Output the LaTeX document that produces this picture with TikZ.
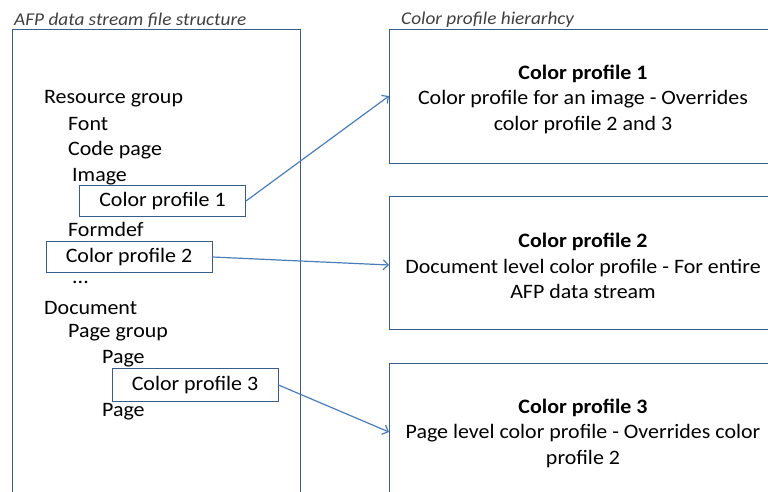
\documentclass[tikz,border=0pt]{standalone}
\usepackage{fontspec}
\setmainfont{Carlito}[FakeStretch=1.07]
\usetikzlibrary{arrows.meta}
\definecolor{boxblue}{HTML}{385D8A}
\definecolor{linkblue}{HTML}{4A7EBB}
\tikzset{
  bigbox/.style={draw=boxblue, line width=1pt},
  item/.style={anchor=west, inner sep=0pt, font=\fontsize{20.5}{24}\selectfont},
  cpbox/.style={draw=boxblue, line width=1pt, minimum width=166pt, minimum height=31pt, inner sep=0pt, font=\fontsize{20.5}{24}\selectfont},
  desc/.style={align=center, font=\fontsize{20.5}{25.5}\selectfont, inner sep=0pt},
  ttl/.style={anchor=west, inner sep=0pt, font=\itshape\fontsize{18}{21}\selectfont, text=black!75},
  link/.style={draw=linkblue, line width=1.2pt, -{Straight Barb[length=5pt,width=10pt]}}
}
\begin{document}
\begin{tikzpicture}[x=1pt,y=-1pt]
\useasboundingbox (0,0) rectangle (768,492);
% titles
\node[ttl] (t1) at (14,20) {AFP data stream file structure};
\node[ttl] (t2) at (401,20) {Color profile hierarhcy};
% left big box
\draw[bigbox] (12,500) -- (12,30) -- (300,30) -- (300,500);
% right boxes
\draw[bigbox] (780,30) -- (389,30) -- (389,163) -- (780,163);
\draw[bigbox] (780,196) -- (389,196) -- (389,329) -- (780,329);
\draw[bigbox] (780,500) -- (389,500) -- (389,363) -- (780,363);
\coordinate (r1) at (389,96);
\coordinate (r2) at (389,265);
\coordinate (r3) at (389,432);
% right texts
\node[desc] (d1) at (583,99) {\textbf{Color profile 1}\\Color profile for an image - Overrides\\color profile 2 and 3};
\node[desc] (d2) at (583,266) {\textbf{Color profile 2}\\Document level color profile - For entire\\AFP data stream};
\node[desc] (d3) at (583,433) {\textbf{Color profile 3}\\Page level color profile - Overrides color\\profile 2};
% left items
\node[item] (rg) at (44,99) {Resource group};
\node[item] (font) at (68,124) {Font};
\node[item] (cp) at (68,150) {Code page};
\node[item] (img) at (72,177) {Image};
\node[cpbox] (c1) at (162.5,201) {Color profile 1};
\node[item] (fd) at (68,229) {Formdef};
\node[cpbox] (c2) at (129,257) {Color profile 2};
\node[item] (dots) at (72,282) {...};
\node[item] (doc) at (44,308) {Document};
\node[item] (pg) at (68,333) {Page group};
\node[item] (p1) at (102,359) {Page};
\node[cpbox, minimum height=33pt] (c3) at (195,385) {Color profile 3};
\node[item] (p2) at (102,412) {Page};
% connectors
\draw[link] (c1.east) -- (r1);
\draw[link] (c2.east) -- (r2);
\draw[link] (c3.east) -- (r3);
\end{tikzpicture}
\end{document}
